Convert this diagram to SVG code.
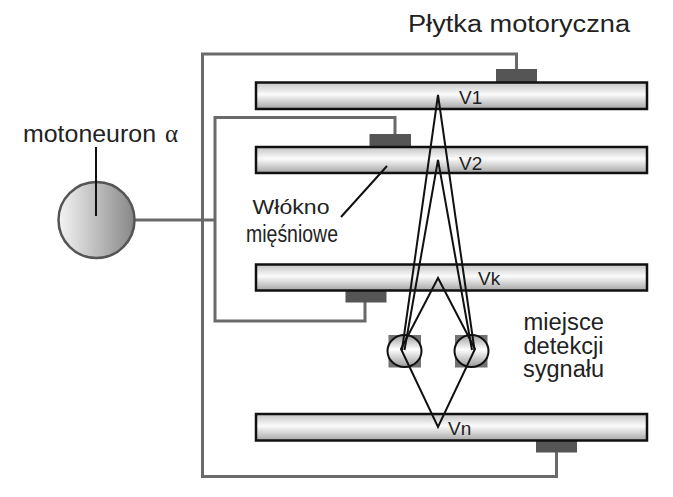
<svg xmlns="http://www.w3.org/2000/svg" width="673" height="497" viewBox="0 0 673 497">
<defs>
<linearGradient id="gFiber" x1="0" y1="0" x2="0" y2="1">
<stop offset="0" stop-color="#c4c4c4"/>
<stop offset="0.45" stop-color="#fbfbfb"/>
<stop offset="1" stop-color="#a6a6a6"/>
</linearGradient>
<linearGradient id="gNeuron" x1="0" y1="0" x2="1" y2="0">
<stop offset="0" stop-color="#f4f4f4"/>
<stop offset="1" stop-color="#878787"/>
</linearGradient>
<linearGradient id="gElec" x1="0" y1="0" x2="0" y2="1">
<stop offset="0" stop-color="#9a9a9a"/>
<stop offset="0.45" stop-color="#ffffff"/>
<stop offset="1" stop-color="#9a9a9a"/>
</linearGradient>
<style>
.fiber{fill:url(#gFiber);stroke:#111;stroke-width:2.5}
.plate{fill:#555}
.wire{fill:none;stroke:#6a6a6a;stroke-width:3}
.sig{fill:none;stroke:#111;stroke-width:2;stroke-linejoin:miter}
.ptr{stroke:#111;stroke-width:2}
.sq{fill:#737373}
.elec{fill:url(#gElec);stroke:#111;stroke-width:2}
.t{font-family:"Liberation Sans",Arial,sans-serif;fill:#222}
.v{font-size:19px}
</style>
</defs>
<rect width="673" height="497" fill="#fff"/>
<g id="connectors">
<path class="wire" d="M516.5,70 V54 H202.5 V476.5 H556.5 V452"/>
<path class="wire" d="M395,135 V117.5 H215 V321 H365 V302"/>
<path class="wire" d="M135,220 H215"/>
</g>
<g id="motoneuron">
<circle cx="96.5" cy="220" r="38" fill="url(#gNeuron)" stroke="#555" stroke-width="2.5"/>
<line class="ptr" x1="96" y1="147" x2="96" y2="216"/>
<text class="t" x="23" y="141.5" font-size="24.5" textLength="133" lengthAdjust="spacingAndGlyphs">motoneuron</text>
<text x="165" y="141.5" font-family="Liberation Serif,serif" font-size="25" fill="#222">α</text>
</g>
<g id="fiber-v1">
<rect class="plate" x="496" y="69" width="41" height="14"/>
<rect class="fiber" x="256" y="82.5" width="391" height="26.5"/>
<text class="t v" x="459" y="103.5">V1</text>
</g>
<g id="fiber-v2">
<rect class="plate" x="369.5" y="134" width="41.5" height="13.5"/>
<rect class="fiber" x="256" y="147" width="391" height="26"/>
<text class="t v" x="459" y="169.5">V2</text>
</g>
<g id="fiber-vk">
<rect class="plate" x="345.5" y="290" width="41" height="12.5"/>
<rect class="fiber" x="256" y="264.5" width="391" height="26"/>
<text class="t v" x="478" y="285">Vk</text>
</g>
<g id="fiber-vn">
<rect class="plate" x="536" y="440" width="41" height="12.5"/>
<rect class="fiber" x="256" y="414" width="391" height="26.5"/>
<text class="t v" x="448" y="435">Vn</text>
</g>
<g id="electrodes">
<rect class="sq" x="388.5" y="335" width="32.5" height="32.5"/>
<rect class="sq" x="455" y="335" width="32.5" height="32.5"/>
<ellipse class="elec" cx="404.5" cy="351" rx="17" ry="16"/>
<ellipse class="elec" cx="471.5" cy="351" rx="17" ry="16"/>
</g>
<g id="signals">
<path class="sig" d="M402,350 L438,95 L474.5,350"/>
<path class="sig" d="M404.5,350 L438,160 L472,350"/>
<path class="sig" d="M438,278 L401,349 L438,427 L475,349 Z"/>
</g>
<g id="labels">
<text class="t" x="408" y="31.5" font-size="23" textLength="222" lengthAdjust="spacingAndGlyphs">Płytka motoryczna</text>
<line class="ptr" x1="387" y1="166" x2="341" y2="217"/>
<text class="t" x="252.5" y="214" font-size="21" textLength="77" lengthAdjust="spacingAndGlyphs">Włókno</text>
<text class="t" x="246" y="241.5" font-size="23" textLength="92" lengthAdjust="spacingAndGlyphs">mięśniowe</text>
<text class="t" x="523.5" y="330" font-size="23" textLength="80.5" lengthAdjust="spacingAndGlyphs">miejsce</text>
<text class="t" x="523.5" y="353.5" font-size="23" textLength="80" lengthAdjust="spacingAndGlyphs">detekcji</text>
<text class="t" x="523" y="377" font-size="23" textLength="81" lengthAdjust="spacingAndGlyphs">sygnału</text>
</g>
</svg>
